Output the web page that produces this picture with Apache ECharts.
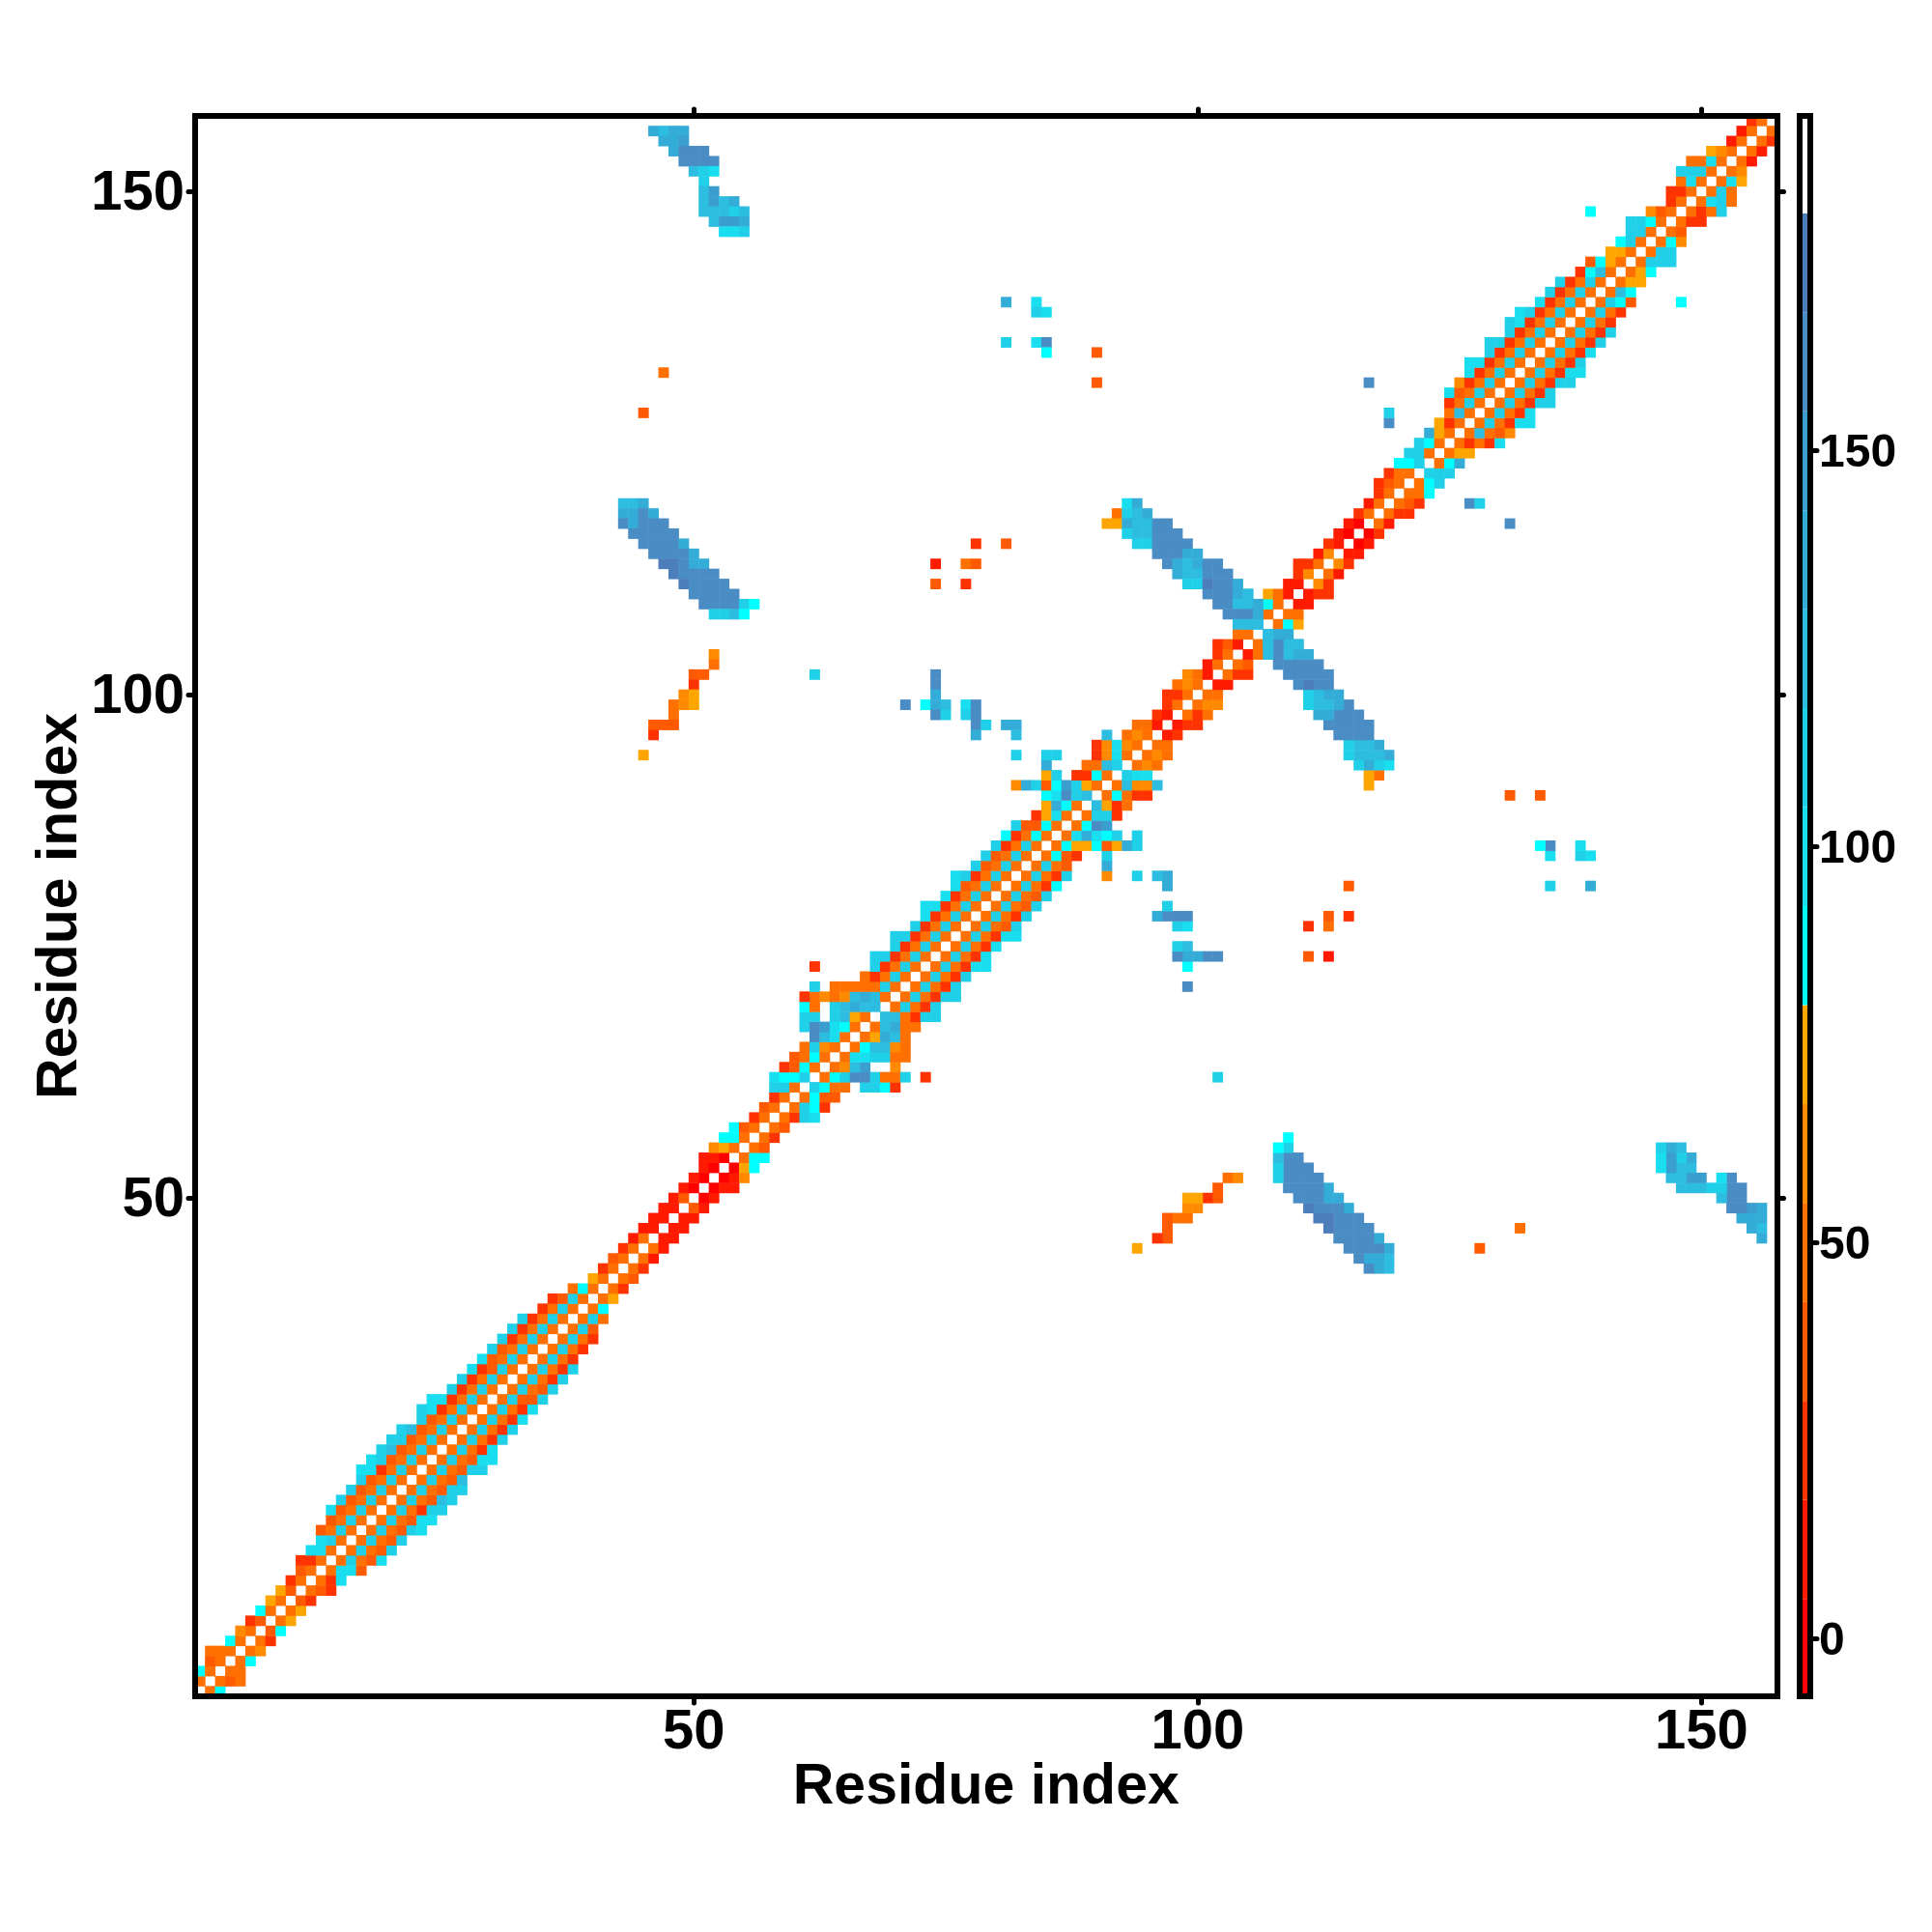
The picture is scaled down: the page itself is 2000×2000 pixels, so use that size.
<!DOCTYPE html>
<html>
<head>
<meta charset="UTF-8">
<title>Residue map</title>
<script src="https://cdn.jsdelivr.net/npm/echarts@6/dist/echarts.min.js"></script>
<style>
body { margin: 0; background: #fff; }
#main { width: 2000px; height: 2000px; }
</style>
</head>
<body>
<div id="main"></div>
<script>
var residueCount = 157;
var tickLabels = [50, 100, 150];
var barTickLabels = [0, 50, 100, 150];
var axisTitle = 'Residue index';

// colour bar steps
var barEdges = [-7.3, 5, 17.5, 30, 42.5, 55, 67.5, 80, 92.5, 105, 117.5, 130, 142.5, 155, 167.5, 180, 192.3];
var barColors = ['#ff0000', '#ff1a00', '#ff3300', '#ff5a00', '#ff7000', '#ff8a00', '#ffa500',
  '#00ffff', '#18def0', '#20cfe8', '#2cbde0', '#33acd8', '#3a9ecf', '#4a8cc4', '#4d7ebc', '#ffffff'];

// values right of the diagonal: row i holds residue i+1, i+2, ... against residue i
var nearRows = [
  [48,86], [48,36,48], [48,48], [48,86], [48,60], [48,25], [36,86], [48,72], [48,72], [36,25],
  [48,36,25], [48,25,98], [48,98,98,36], [48,110,48,36,98], [48,110,48,36,110], [48,110,48,36,110],
  [48,110,48,36,110,98], [48,110,48,36,98,98], [48,110,48,25,110,110], [48,110,48,36,124,110],
  [48,110,48,36,110,110], [48,110,48,36,124], [48,110,48,36,110,110], [48,110,48,36,98,98],
  [48,110,48,25,98], [48,110,48,25,110], [48,110,48,25,110], [48,110,48,25,98], [48,110,48,25,98],
  [48,110,36,36,110], [48,110,48,36,110], [48,110,48,25,110], [48,110,48,25,110], [48,110,48,25],
  [48,110,48,25], [48,110,48,25], [48,110,36], [48,110,48], [48,86], [48,72],
  [48,25], [48,36], [48,25], [48,12], [48,12], [12,12], [12,12], [12,12], [36,12], [0,12],
  [0,12,12], [0,12,60], [0,72,86], [48,86,86], [48,36], [48,25], [48,36], [48,25,110,98],
  [48,110,86,25], [48,86,36,36],
  [110,86,48,48,null,110,110,86,25], [48,86,110,160,160,110,48,48,110,null,25],
  [48,60,124,148,null,null,60], [48,98,98,110,110,48,48], [48,86,124,124,60,48], [48,72,135,124,48],
  [48,124,135,48,48], [124,124,48,25,110,110], [48,110,48,25,110], [48,110,48,25,110,110],
  [48,110,48,25,110], [48,110,48,25,110], [48,110,48,25,98,98], [48,110,48,25,98], [48,110,48,25,98],
  [48,110,48,25,98,98], [48,110,48,36,110], [48,110,48,25,110], [48,110,48,36,110], [48,110,48,36,110],
  [48,110,48,25,86], [48,110,48,25,110,null,null,null,60], [48,110,48,36,null,null,null,135],
  [48,86,36,25,null,null,110], [48,86,72,72,86,36,72,135,110], [48,98,135,98,86,110,null,110],
  [48,86,160,148], [48,110,110,25], [124,72,25,48], [48,86,48,25,25],
  [48,124,60,60,124], [110,98,98], [48,60,48], [48,60,48], [48,48], [12,25], [12,25,25], [48,25,48],
  [48,60,60], [48,48], [12,12], [48,25,25], [48,36], [12,48], [48,124,160,135,124],
  [124,124,135], [48,86,72], [48,48], [12,12], [12,25,25], [60,25], [48,12], [60,25], [12,12],
  [0,12], [0,25], [48,12], [48,25,25], [48,36,25], [48,48,86], [48,86,110], [110,110,110],
  [48,86,135], [48,72,72], [48,25,48,25,98], [48,124,48,36,60], [48,110,48,25,98,98], [48,110,48,25,98],
  [48,110,48,25,110,110], [48,110,48,25,110], [48,110,48,25,110,110], [48,110,48,25,98,98],
  [48,110,48,25,110], [48,110,48,25,98], [48,110,48,25,110], [48,110,48,25,110], [48,110,48,25],
  [48,110,48,25], [48,110,86,36], [48,124,86], [48,72,72], [48,72,86], [48,110,110,110], [48,110,110],
  [48,86,60], [48,36], [48,25,25], [48,25,48,110], [48,98,110,48], [48,110,48], [48,98,72], [48,60],
  [48,12], [48,12], [48,25], [48]
];

// values away from the diagonal: [y residue, first x residue, values along x]
var strandTop = [
  [156,46,[135,124,135,135]], [155,47,[135,135,148]], [154,48,[135,160,160,160]], [153,49,[160,160,160,160]],
  [152,50,[124,110,98]], [151,51,[110]], [150,51,[124,148]], [149,51,[124,148,124,135]],
  [148,51,[124,124,124,110,124]], [147,52,[124,148,148,135]], [146,53,[98,98,110]]
];
var strandLeft = [
  [119,43,[124,124,135]], [118,43,[135,135,160,135]], [117,43,[160,135,160,160,160]], [116,44,[160,160,160,160,160]],
  [115,45,[160,160,160,160,135]], [114,46,[160,160,160,160,135]], [113,47,[172,172,160,135,135]],
  [112,48,[172,160,160,160,160]], [111,49,[172,160,160,160,160]], [110,50,[160,160,160,160,160]],
  [109,51,[160,160,160,160,110,86]], [108,52,[110,110,124,86]]
];
var strandCross = [
  [119,93,[98,135]], [118,92,[48,110,124,135]], [117,91,[72,72,135,124,124,160,160]], [116,93,[110,124,124,160,160,160]],
  [115,94,[110,110,160,160,160,160]], [114,96,[160,160,160,135,135]], [113,97,[160,135,124,135,160,160]],
  [112,98,[135,124,124,160,160,160]], [111,99,[110,110,172,160,160,135]], [110,101,[160,160,160,135,124]],
  [109,102,[160,160,124,124,135]], [108,103,[160,160,160,135]], [107,104,[124,124,124]]
];
var orangeArc = [
  [104,52,[60]], [103,52,[48]], [102,50,[36,36]], [101,50,[25]], [100,49,[60,72]], [99,48,[48,60,72]],
  [98,48,[48]], [97,46,[36,36,36]], [96,46,[25]], [94,45,[72]]
];
var scattered = [
  [132,47,[48]], [128,45,[36]], [115,78,[25,null,null,36]], [113,74,[12,null,null,48,36]], [111,74,[36,null,null,25]],
  [139,81,[135,null,null,98]], [138,84,[110,98]], [135,81,[110,null,null,98,160]], [134,85,[86]],
  [134,90,[36]], [131,90,[36]], [148,139,[86]], [131,117,[160]], [127,119,[160]], [128,119,[110]],
  [102,62,[110]], [102,74,[160]], [101,74,[160]], [100,74,[135]],
  [99,71,[160,null,86,135,124,null,98,160]], [98,74,[160,110,null,110,160]],
  [97,78,[160,110,null,135,135]], [96,78,[135,null,null,null,124]], [94,82,[110]]
];

var categories = [];
for (var c = 1; c <= residueCount; c++) categories.push(String(c));

// the map is symmetric, every cell goes in twice
var cells = [];
function addCell(x, y, v) {
  if (v === null) return;
  cells.push([x - 1, y - 1, v]);
  cells.push([y - 1, x - 1, v]);
}
nearRows.forEach(function (vals, r) {
  vals.forEach(function (v, k) { addCell(r + 1, r + 2 + k, v); });
});
[strandTop, strandLeft, strandCross, orangeArc, scattered].forEach(function (list) {
  list.forEach(function (row) {
    row[2].forEach(function (v, k) { addCell(row[1] + k, row[0], v); });
  });
});

var pieces = [];
var barData = [];
barColors.forEach(function (col, k) {
  pieces.push({ gte: barEdges[k], lt: barEdges[k + 1], color: col });
  barData.push([barEdges[k], barEdges[k + 1], k]);
});

var font = 'Liberation Sans';
var black = '#000';
var frameLine = { show: true, onZero: false, lineStyle: { color: black, width: 6, cap: 'square' } };

function isLabelled(idx) {
  return tickLabels.indexOf(idx + 1) >= 0;
}
function mainTick() {
  return { show: true, interval: isLabelled, alignWithLabel: true, inside: false, length: 7,
    lineStyle: { color: black, width: 5, cap: 'round' } };
}
function mainAxisX(pos, labelled) {
  return {
    type: 'category', data: categories, gridIndex: 0, position: pos, z: 5,
    boundaryGap: true, axisLine: frameLine, axisTick: mainTick(), splitLine: { show: false },
    axisLabel: { show: labelled, interval: isLabelled, margin: 9, color: black,
      fontFamily: font, fontWeight: 'bold', fontSize: 58 },
    name: labelled ? axisTitle : '', nameLocation: 'middle', nameGap: 65, nameMoveOverlap: false,
    nameTextStyle: { color: black, fontFamily: font, fontWeight: 'bold', fontSize: 59 }
  };
}
function mainAxisY(pos, labelled) {
  return {
    type: 'category', data: categories, gridIndex: 0, position: pos, z: 5,
    boundaryGap: true, axisLine: frameLine, axisTick: mainTick(), splitLine: { show: false },
    axisLabel: { show: labelled, interval: isLabelled, margin: 11, color: black,
      formatter: '{a|{value}}',
      rich: { a: { padding: [5, 0, 0, 0], color: black, fontFamily: font, fontWeight: 'bold', fontSize: 58 } } },
    name: labelled ? axisTitle : '', nameLocation: 'middle', nameGap: 110, nameRotate: 90, nameMoveOverlap: false,
    nameTextStyle: { color: black, fontFamily: font, fontWeight: 'bold', fontSize: 59 }
  };
}
function barAxisX(pos) {
  return { type: 'value', gridIndex: 1, position: pos, min: 0, max: 1, z: 5,
    axisLine: frameLine, axisTick: { show: false }, axisLabel: { show: false }, splitLine: { show: false } };
}
function barAxisY(pos, labelled) {
  return { type: 'value', gridIndex: 1, position: pos, min: barEdges[0], max: barEdges[barEdges.length - 1], z: 5,
    axisLine: frameLine, splitLine: { show: false },
    axisTick: { show: labelled, customValues: barTickLabels, length: 7, lineStyle: { color: black, width: 5, cap: 'round' } },
    axisLabel: { show: labelled, customValues: barTickLabels, margin: 9, color: black,
      formatter: '{a|{value}}',
      rich: { a: { padding: [7, 0, 0, 0], color: black, fontFamily: font, fontWeight: 'bold', fontSize: 48 } } } };
}

var myChart = echarts.init(document.getElementById('main'), null, { renderer: 'canvas' });
myChart.setOption({
  animation: false,
  backgroundColor: '#fff',
  grid: [
    { left: 202, top: 120, width: 1637.5, height: 1636, outerBoundsMode: 'none' },
    { left: 1863, top: 120, width: 11, height: 1636, outerBoundsMode: 'none' }
  ],
  xAxis: [mainAxisX('bottom', true), mainAxisX('top', false), barAxisX('bottom'), barAxisX('top')],
  yAxis: [mainAxisY('left', true), mainAxisY('right', false), barAxisY('right', true), barAxisY('left', false)],
  visualMap: { show: false, type: 'piecewise', dimension: 2, seriesIndex: 0, pieces: pieces },
  series: [
    {
      type: 'heatmap', xAxisIndex: 0, yAxisIndex: 0, data: cells, progressive: 0,
      itemStyle: { borderWidth: 0 }
    },
    {
      type: 'custom', xAxisIndex: 2, yAxisIndex: 2, data: barData, clip: false,
      encode: { x: -1, y: [0, 1] },
      renderItem: function (params, api) {
        var a = api.coord([0, api.value(0)]);
        var b = api.coord([1, api.value(1)]);
        return { type: 'rect', shape: { x: a[0], y: b[1], width: b[0] - a[0], height: a[1] - b[1] },
          style: { fill: barColors[api.value(2)] } };
      }
    }
  ]
});
</script>
</body>
</html>
